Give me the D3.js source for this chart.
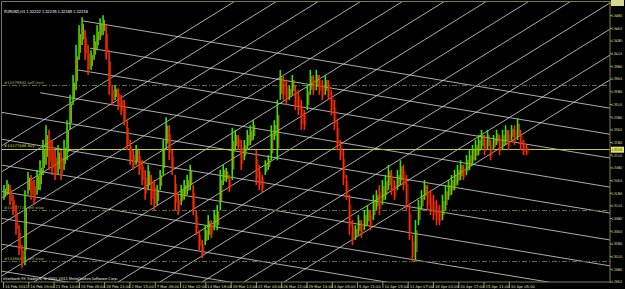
<!DOCTYPE html>
<html>
<head>
<meta charset="utf-8">
<script src="https://cdnjs.cloudflare.com/ajax/libs/d3/7.8.5/d3.min.js"></script>
<style>
  body { margin: 0; background: #000; overflow: hidden; }
  svg text { font-family: "DejaVu Sans", sans-serif; }
  svg text.price { font-family: "Liberation Sans Narrow", "DejaVu Sans Condensed", sans-serif; }
</style>
</head>
<body>
<svg id="chart" width="625" height="289"></svg>
<script>
// EURUSD H1, one column ~ 7.6 bars
const highs = [1.3152,1.3162,1.3152,1.3133,1.3113,1.3073,1.3034,1.3142,1.3178,1.3172,1.3162,1.3182,1.3201,1.3241,1.3270,1.3261,1.3241,1.3221,1.3231,1.3221,
  1.3241,1.3280,1.3330,1.3369,1.3428,1.3467,1.3483,1.3458,1.3428,1.3418,1.3448,1.3467,1.3481,1.3487,1.3467,1.3418,1.3349,1.3349,1.3343,1.3330,
  1.3320,1.3280,1.3241,1.3221,1.3231,1.3221,1.3201,1.3182,1.3192,1.3172,1.3162,1.3152,1.3182,1.3241,1.3286,1.3270,1.3221,1.3172,1.3133,1.3152,
  1.3162,1.3172,1.3192,1.3152,1.3103,1.3063,1.3044,1.3073,1.3093,1.3083,1.3103,1.3113,1.3182,1.3192,1.3186,1.3172,1.3265,1.3261,1.3251,1.3241,
  1.3241,1.3261,1.3270,1.3280,1.3221,1.3192,1.3172,1.3201,1.3211,1.3270,1.3280,1.3320,1.3379,1.3369,1.3359,1.3349,1.3369,1.3349,1.3339,1.3320,
  1.3300,1.3349,1.3379,1.3369,1.3379,1.3369,1.3359,1.3369,1.3359,1.3339,1.3320,1.3280,1.3241,1.3221,1.3172,1.3133,1.3083,1.3073,1.3093,1.3083,
  1.3103,1.3113,1.3103,1.3133,1.3142,1.3152,1.3162,1.3172,1.3192,1.3182,1.3162,1.3182,1.3201,1.3192,1.3172,1.3113,1.3054,1.3083,1.3123,1.3142,
  1.3162,1.3152,1.3142,1.3133,1.3123,1.3113,1.3133,1.3152,1.3162,1.3172,1.3182,1.3192,1.3201,1.3192,1.3211,1.3221,1.3231,1.3241,1.3251,1.3261,
  1.3251,1.3261,1.3241,1.3251,1.3261,1.3251,1.3261,1.3270,1.3261,1.3270,1.3270,1.3284,1.3261,1.3241,1.3231];
const lows = [1.3123,1.3133,1.3113,1.3093,1.3054,1.3014,1.2989,1.2994,1.3133,1.3123,1.3113,1.3133,1.3142,1.3172,1.3192,1.3182,1.3172,1.3162,1.3172,1.3162,
  1.3182,1.3201,1.3261,1.3310,1.3339,1.3399,1.3428,1.3399,1.3369,1.3379,1.3399,1.3418,1.3438,1.3448,1.3399,1.3330,1.3310,1.3320,1.3300,1.3290,
  1.3270,1.3221,1.3192,1.3182,1.3192,1.3172,1.3152,1.3123,1.3142,1.3113,1.3103,1.3113,1.3142,1.3172,1.3221,1.3201,1.3172,1.3103,1.3093,1.3113,
  1.3123,1.3133,1.3142,1.3093,1.3054,1.3024,1.3008,1.3034,1.3044,1.3048,1.3063,1.3063,1.3103,1.3152,1.3158,1.3138,1.3162,1.3221,1.3221,1.3182,
  1.3201,1.3221,1.3231,1.3241,1.3152,1.3142,1.3138,1.3172,1.3182,1.3201,1.3241,1.3201,1.3320,1.3320,1.3310,1.3320,1.3330,1.3300,1.3290,1.3261,
  1.3261,1.3300,1.3330,1.3330,1.3339,1.3330,1.3320,1.3330,1.3320,1.3290,1.3261,1.3221,1.3201,1.3152,1.3123,1.3054,1.3034,1.3044,1.3054,1.3048,
  1.3063,1.3073,1.3063,1.3083,1.3103,1.3093,1.3113,1.3123,1.3142,1.3133,1.3123,1.3142,1.3152,1.3142,1.3103,1.3044,1.3000,1.3004,1.3073,1.3103,
  1.3123,1.3103,1.3093,1.3083,1.3073,1.3073,1.3083,1.3103,1.3123,1.3133,1.3142,1.3152,1.3162,1.3162,1.3172,1.3182,1.3192,1.3201,1.3211,1.3221,
  1.3211,1.3221,1.3201,1.3221,1.3231,1.3211,1.3221,1.3231,1.3221,1.3241,1.3231,1.3241,1.3221,1.3211,1.3211];
const barsPerCol = 7.6;

const dateLabels = ["14 Feb 2012","16 Feb 19:00","21 Feb 13:00","24 Feb 05:00","28 Feb 23:00","2 Mar 15:00","7 Mar 09:00",
  "12 Mar 02:00","14 Mar 18:00","19 Mar 12:00","22 Mar 04:00","26 Mar 22:00","29 Mar 14:00","3 Apr 05:00","5 Apr 21:00",
  "10 Apr 15:00","13 Apr 07:00","18 Apr 01:00","20 Apr 17:00","25 Apr 11:00","30 Apr 05:00"];
const dateBars = [0,64,128,192,256,320,384,448,512,576,640,704,768,832,896,960,1024,1088,1152,1216,1280];

const priceTicks = [1.29610,1.29860,1.30110,1.30360,1.30610,1.30860,1.31110,1.31360,1.31610,1.31860,1.32110,1.32360,
  1.32610,1.32860,1.33110,1.33360,1.33610,1.33860,1.34110,1.34360,1.34610,1.34860,1.35110];
const bid = 1.32218;

const orderNames = ["#14379932 sell limit","#14377886 buy","#14377726 sell stop","#14368807 sell stop"];
const orderPrices = [1.3349, 1.3224, 1.3102, 1.3002];
const orderKinds = ["pending","open","pending","pending"];

// gann grid lines: start point [bar, price]
const downLines = [[200,1.3476],[220,1.3422],[190,1.3379],[94,1.3334],[-8,1.3296],[-8,1.3243],[-8,1.3192],[-8,1.3140],[-8,1.3087],[-8,1.3036],[-8,1.2983]];
const downSlope = -0.0000129;   // price per bar
const upLines = [[-559,1.2961],[-453,1.2961],[-347,1.2961],[-240,1.2961],[-134,1.2961],[-28,1.2961],[78,1.2961],[185,1.2961],[291,1.2961],[397,1.2961],[504,1.2961],[610,1.2961],[711,1.2961]];
const upSlope = 0.0000483;

const W = 625, H = 289;
const svg = d3.select("#chart");
const x = d3.scaleLinear().domain([0, 1536]).range([3, 610]);
const y = d3.scaleLinear().domain([1.2961, 1.3511]).range([282, 3]);

svg.append("rect").attr("width", W).attr("height", H).attr("fill", "#000");
svg.append("defs").append("clipPath").attr("id", "plotclip")
  .append("rect").attr("x", 2).attr("y", 2).attr("width", 608).attr("height", 280);

const plot = svg.append("g").attr("clip-path", "url(#plotclip)");

// gann grid
const grid = plot.append("g").attr("stroke", "#d8d8d8").attr("stroke-width", 0.8);
grid.selectAll("line.dn").data(downLines).enter().append("line")
  .attr("x1", d => x(d[0])).attr("y1", d => y(d[1]))
  .attr("x2", d => x(d[0] + 3000)).attr("y2", d => y(d[1] + downSlope * 3000));
grid.selectAll("line.up").data(upLines).enter().append("line")
  .attr("x1", d => x(d[0])).attr("y1", d => y(d[1]))
  .attr("x2", d => x(d[0] + 3000)).attr("y2", d => y(d[1] + upSlope * 3000));

// order lines
const orders = orderNames.map((n, i) => ({ name: n, price: orderPrices[i], kind: orderKinds[i] }));
plot.selectAll("line.order").data(orders).enter().append("line")
  .attr("x1", 2).attr("x2", 610)
  .attr("y1", d => Math.round(y(d.price)) + 0.5).attr("y2", d => Math.round(y(d.price)) + 0.5)
  .attr("stroke", d => d.kind === "open" ? "#c8c832" : "#4f7a2a")
  .attr("stroke-width", 1)
  .attr("stroke-dasharray", d => d.kind === "open" ? null : "5,2,1,2");
plot.selectAll("text.order").data(orders).enter().append("text")
  .attr("x", 4).attr("y", d => y(d.price) - 1.5)
  .attr("font-size", 3.8)
  .attr("fill", d => d.kind === "open" ? "#d8d84a" : "#a8b860")
  .text(d => d.name);

// price bars
const cols = highs.map((h, i) => ({ i, h, l: lows[i], mid: (h + lows[i]) / 2 }));
plot.selectAll("line.bar").data(cols).enter().append("line")
  .attr("x1", d => x(2.5 + d.i * barsPerCol)).attr("x2", d => x(2.5 + d.i * barsPerCol))
  .attr("y1", d => y(d.h)).attr("y2", d => y(d.l))
  .attr("stroke", d => (d.i === 0 || d.mid >= cols[d.i - 1].mid) ? "#3ee000" : "#ff2a00")
  .attr("stroke-width", 1.6);
// a second thin stroke gives the mixed candle look
plot.selectAll("line.bar2").data(cols).enter().append("line")
  .attr("x1", d => x(2.5 + d.i * barsPerCol) + 1.5).attr("x2", d => x(2.5 + d.i * barsPerCol) + 1.5)
  .attr("y1", d => y(d.h + (d.l - d.h) * 0.25)).attr("y2", d => y(d.l - (d.l - d.h) * 0.2))
  .attr("stroke", d => (d.i === 0 || d.mid >= cols[d.i - 1].mid) ? "#e8a000" : "#c83000")
  .attr("stroke-width", 0.9);

// frame
svg.append("rect").attr("x", 1.5).attr("y", 1.5).attr("width", 608.5).attr("height", 280.5)
  .attr("fill", "none").attr("stroke", "#7c7c40").attr("stroke-width", 1);

// title and copyright
svg.append("text").attr("x", 4).attr("y", 13).attr("font-size", 4).attr("fill", "#e8e8e8")
  .attr("textLength", 84).text("EURUSD,H1  1.32222 1.32235 1.32185 1.32218");
svg.append("text").attr("x", 3).attr("y", 279.5).attr("font-size", 3.8).attr("fill", "#e8e8e8")
  .attr("textLength", 115).text("Interbank FX Trader 4, \u00a9 2001-2011 MetaQuotes Software Corp.");

// price axis
const yAxis = svg.append("g");
yAxis.selectAll("line").data(priceTicks).enter().append("line")
  .attr("x1", 610).attr("x2", 612).attr("y1", d => y(d)).attr("y2", d => y(d))
  .attr("stroke", "#9c9c50");
// top label and bid label sit on a bright box
svg.append("rect").attr("x", 611).attr("y", y(priceTicks[priceTicks.length - 1]) - 3)
  .attr("width", 13).attr("height", 6).attr("fill", "#d8d890");
svg.append("rect").attr("x", 611).attr("y", y(bid) - 3).attr("width", 13).attr("height", 6).attr("fill", "#e8e860");
yAxis.selectAll("text").data(priceTicks).enter().append("text")
  .attr("class", "price")
  .attr("x", 611.5).attr("y", d => y(d) + 1.4).attr("font-size", 3.6)
  .attr("fill", (d, i) => i === priceTicks.length - 1 ? "#000" : "#e4e4b0")
  .attr("textLength", 10.5).attr("lengthAdjust", "spacingAndGlyphs")
  .text(d => d.toFixed(5));
svg.append("text").attr("class", "price").attr("x", 611.5).attr("y", y(bid) + 1.4).attr("font-size", 3.6).attr("fill", "#000")
  .attr("textLength", 10.5).attr("lengthAdjust", "spacingAndGlyphs").text(bid.toFixed(5));

// time axis
const xAxis = svg.append("g");
xAxis.selectAll("line").data(dateBars).enter().append("line")
  .attr("x1", d => x(d) + 0.5).attr("x2", d => x(d) + 0.5).attr("y1", 282).attr("y2", 288)
  .attr("stroke", "#9c9c50");
xAxis.selectAll("text").data(dateLabels).enter().append("text")
  .attr("x", (d, i) => x(dateBars[i]) + 2).attr("y", 287.5)
  .attr("font-size", 3.7).attr("fill", "#e4e4b0")
  .text(d => d);
</script>
</body>
</html>
